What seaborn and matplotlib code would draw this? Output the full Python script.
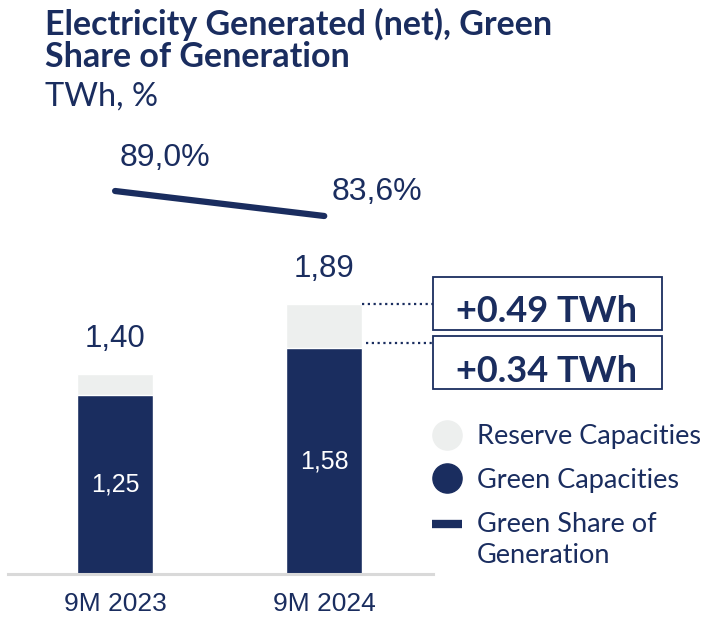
import matplotlib
matplotlib.use("Agg")
import matplotlib.pyplot as plt
from matplotlib.lines import Line2D
import seaborn as sns
import pandas as pd

# ─── Data ────────────────────────────────────────────────────────────────────
periods      = ["9M 2023", "9M 2024"]
total_twh    = [1.40, 1.89]
green_twh    = [1.25, 1.58]
green_share  = [89.0, 83.6]
total_labels = ["1,40", "1,89"]
green_labels = ["1,25", "1,58"]
share_labels = ["89,0%", "83,6%"]
delta_labels = ["+0.49 TWh", "+0.34 TWh"]

NAVY  = "#1a2d5f"
GREY  = "#edefee"
AXIS  = "#d9d9d9"
TITLE_FONT = ["Lato", "DejaVu Sans"]
NUM_FONT   = ["Liberation Sans", "DejaVu Sans"]

sns.set_style("white")
plt.rcParams["font.family"] = NUM_FONT

df = pd.DataFrame({"period": periods, "total": total_twh,
                   "green": green_twh, "share": green_share})

fig = plt.figure(figsize=(7.14, 6.17), dpi=100)
W, H = 714, 617
ax = fig.add_axes([8 / W, (H - 574) / H, 425 / W, 434 / H])

# stacked bars: total (reserve colour) first, green on top
sns.barplot(data=df, x="period", y="total", color=GREY, width=0.364,
            saturation=1, ax=ax)
sns.barplot(data=df, x="period", y="green", color=NAVY, width=0.364,
            saturation=1, ax=ax)

ax.set_xlim(-0.512, 1.52)
ax.set_ylim(0, 434 / 143)
ax.set_xlabel("")
ax.set_ylabel("")
ax.set_yticks([])
for s in ["top", "right", "left"]:
    ax.spines[s].set_visible(False)
ax.spines["bottom"].set_color(AXIS)
ax.spines["bottom"].set_linewidth(2.2)
ax.tick_params(axis="x", length=0, pad=13, labelsize=19, labelcolor=NAVY)

# value labels
for i in range(len(periods)):
    ax.annotate(total_labels[i], xy=(i, total_twh[i]), xytext=(0, 25),
                textcoords="offset points", ha="center", va="center",
                fontsize=22.5, color=NAVY)
    ax.text(i, green_twh[i] / 2, green_labels[i], ha="center", va="center",
            fontsize=18, color="white")

# delta callouts for the second bar
right_edge = 1 + 0.364 / 2
for yv, gap in [(total_twh[1], 0.0), (green_twh[1] + 0.035, 0.02)]:
    ax.plot([right_edge + gap, 1.52], [yv, yv], color=NAVY, lw=1.6,
            ls=(0, (1, 1.6)), clip_on=False)

for k, lab in enumerate(delta_labels):
    y0 = (H - 330 - k * 59) / H
    fig.text(547 / W, (H - 322 - k * 60) / H, lab, ha="center", va="baseline",
             fontsize=26, fontweight="bold", color=NAVY, family=TITLE_FONT)
    fig.add_artist(plt.Rectangle((433 / W, y0), 229 / W, 53 / H,
                                 transform=fig.transFigure, fill=False,
                                 ec=NAVY, lw=1.3))

# green share line on twin axis
ax2 = ax.twinx()
sns.lineplot(x=[0, 1], y=df["share"], color=NAVY, lw=4.5, ax=ax2,
             solid_capstyle="round")
ax2.set_ylim(89.0 - 383 / 4.63, 89.0 + 51 / 4.63)
ax2.set_xlim(-0.512, 1.52)
ax2.axis("off")
offsets = [(36, 24), (38, 17)]
for i in range(len(periods)):
    ax2.annotate(share_labels[i], xy=(i, green_share[i]), xytext=offsets[i],
                 textcoords="offset points", ha="center", va="center",
                 fontsize=23, color=NAVY)

# title
fig.text(45 / W, 1 - 35 / H, "Electricity Generated (net), Green",
         fontsize=24.5, fontweight="bold", color=NAVY, va="baseline",
         family=TITLE_FONT)
fig.text(45 / W, 1 - 67 / H, "Share of Generation",
         fontsize=24.5, fontweight="bold", color=NAVY, va="baseline",
         family=TITLE_FONT)
fig.text(45 / W, 1 - 106 / H, "TWh, %", fontsize=23.5, color=NAVY,
         va="baseline", family=TITLE_FONT)

# legend
fs = 19.5
handles = [
    Line2D([], [], ls="none", marker="o", ms=21, mfc=GREY, mec=GREY),
    Line2D([], [], ls="none", marker="o", ms=21, mfc=NAVY, mec=NAVY),
    Line2D([], [], color=NAVY, lw=6, solid_capstyle="butt"),
]
leg = fig.legend(handles, ["Reserve Capacities", "Green Capacities",
                           "Green Share of\nGeneration"],
                 loc="upper left", bbox_to_anchor=(432 / W, 1 - 424 / H),
                 frameon=False, borderpad=0, borderaxespad=0,
                 handlelength=30 / (fs * 1.389), handletextpad=0.55,
                 labelspacing=0.7, prop={"family": TITLE_FONT, "size": fs})
for t in leg.get_texts():
    t.set_color(NAVY)
    t.set_linespacing(1.3)
# put the line handle level with the first text line of its label
h = leg.legend_handles[2]
h.set_ydata([y + 12 for y in h.get_ydata()])

fig.savefig("out.png", dpi=100)
